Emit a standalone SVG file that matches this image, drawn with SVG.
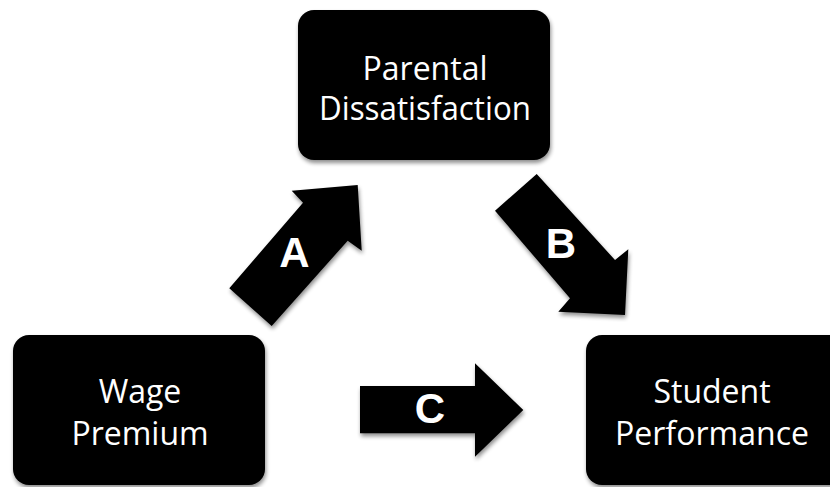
<svg xmlns="http://www.w3.org/2000/svg" width="830" height="487" viewBox="0 0 830 487">
<defs>
<filter id="sh" x="-20%" y="-20%" width="140%" height="140%">
<feGaussianBlur in="SourceAlpha" stdDeviation="2"/>
<feOffset dx="1" dy="3" result="b"/>
<feComponentTransfer><feFuncA type="linear" slope="0.45"/></feComponentTransfer>
<feMerge><feMergeNode/><feMergeNode in="SourceGraphic"/></feMerge>
</filter>
<style>
.box{fill:#000;filter:url(#sh)}
.arr{fill:#000;filter:url(#sh)}
.t{font-family:"Open Sans","Noto Sans","DejaVu Sans",sans-serif;font-size:32px;fill:#fff;text-anchor:middle}
.l{font-family:"Liberation Sans",Arial,sans-serif;font-weight:bold;font-size:42px;fill:#fff;text-anchor:middle}
</style>
</defs>
<rect width="830" height="487" fill="#fff"/>
<g id="connectors">
<g id="arrowA">
<polygon class="arr" points="357.7,185 291.7,190.7 303,202.7 229.3,288.3 271.7,326 347.7,240.7 361.7,250.7"/>
<text class="l" x="294.5" y="267">A</text>
</g>
<g id="arrowB">
<polygon class="arr" points="536.7,174 495,210.7 570,298.3 558.3,311.7 625,315 628.3,249.3 615,260"/>
<text class="l" x="561" y="258">B</text>
</g>
<g id="arrowC">
<polygon class="arr" points="360,386 475,386 475,363.3 523.3,410 475,456.7 475,433.3 360,433.3"/>
<text class="l" x="430" y="423">C</text>
</g>
</g>
<g id="parental">
<rect class="box" x="298" y="10" width="252" height="150" rx="16"/>
<text class="t" x="425" y="80">Parental</text>
<text class="t" x="425" y="120" textLength="212" lengthAdjust="spacingAndGlyphs">Dissatisfaction</text>
</g>
<g id="wage">
<rect class="box" x="13" y="335" width="252" height="150" rx="16"/>
<text class="t" x="140" y="403">Wage</text>
<text class="t" x="140" y="445">Premium</text>
</g>
<g id="student">
<rect class="box" x="586" y="335" width="260" height="150" rx="16"/>
<text class="t" x="712" y="403">Student</text>
<text class="t" x="712" y="445" textLength="194" lengthAdjust="spacingAndGlyphs">Performance</text>
</g>
</svg>
